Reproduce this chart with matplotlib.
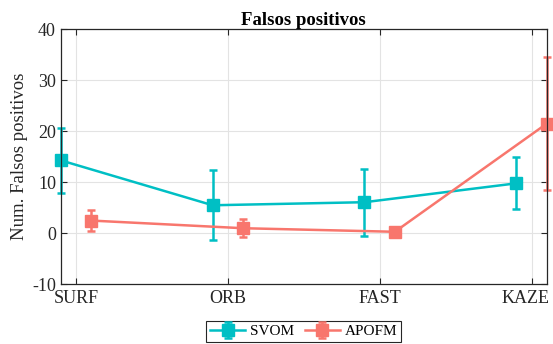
import matplotlib
matplotlib.use("Agg")
import matplotlib.pyplot as plt
import matplotlib.transforms as mtransforms
import numpy as np

categories = ["SURF", "ORB", "FAST", "KAZE"]
svom_mean = [14.3, 5.5, 6.1, 9.8]
svom_err = [6.4, 6.9, 6.6, 5.1]
apofm_mean = [2.5, 1.0, 0.3, 21.5]
apofm_err = [2.0, 1.8, 0.0, 13.1]
yticks = [-10, 0, 10, 20, 30, 40]

plt.rcParams['font.family'] = ['Liberation Serif', 'DejaVu Serif']
plt.rcParams['axes.unicode_minus'] = False

fig = plt.figure(figsize=(5.53, 3.44), dpi=100)
ax = fig.add_axes([0.110, 0.1735, 0.8786, 0.7413])

x = np.arange(1, len(categories) + 1)
c1 = '#00BFC4'
c2 = '#F8766D'
for xs, m, e, c, lab in [(x - 0.1, svom_mean, svom_err, c1, 'SVOM'),
                         (x + 0.1, apofm_mean, apofm_err, c2, 'APOFM')]:
    cont = ax.errorbar(xs, m, yerr=e, color=c, marker='s', markersize=8,
                       linewidth=1.8, elinewidth=1.8, capsize=3, capthick=1.8,
                       label=lab, zorder=3)
    for art in [cont.lines[0]] + list(cont.lines[1]) + list(cont.lines[2]):
        art.set_clip_on(False)

ax.set_xlim(0.9, 4.1)
ax.set_ylim(-10, 40)
ax.set_xticks(x)
ax.set_xticklabels(categories)
ax.set_yticks(yticks)
ax.grid(True, color='#e3e3e3', linewidth=0.8)
ax.set_axisbelow(True)
ax.tick_params(direction='in', top=True, right=True, labelsize=13, colors='#262626',
               length=4, width=0.8)
ax.tick_params(axis='x', pad=4)
# keep the last label inside the figure, as in the reference
last = ax.get_xticklabels()[-1]
last.set_transform(last.get_transform() +
                   mtransforms.ScaledTranslation(-6 / 100, 0, fig.dpi_scale_trans))
for s in ax.spines.values():
    s.set_color('#262626')
    s.set_linewidth(0.9)
    s.set_zorder(4)
ax.set_ylabel('Num. Falsos positivos', fontsize=13.5, color='#262626', labelpad=3)
ax.set_title('Falsos positivos', fontsize=13.5, fontweight='bold', pad=3)

leg = fig.legend(loc='center', bbox_to_anchor=(0.549, 0.036), ncol=2, fontsize=11,
                 frameon=True, fancybox=False, edgecolor='#262626', framealpha=1,
                 handlelength=2.3, borderpad=0.25, columnspacing=0.7, handletextpad=0.3,
                 borderaxespad=0)
leg.get_frame().set_linewidth(0.8)

fig.savefig('out.png', dpi=100)
